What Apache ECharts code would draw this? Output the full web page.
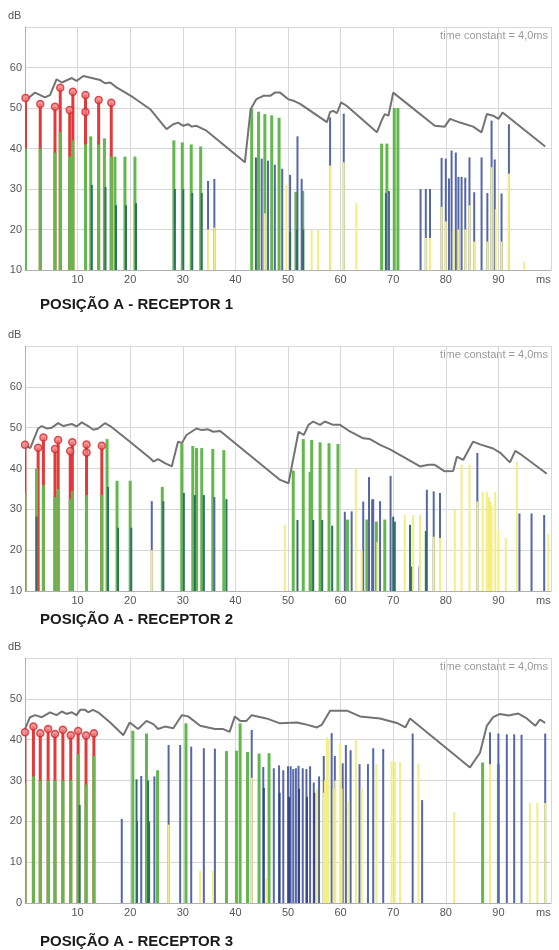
<!DOCTYPE html>
<html><head><meta charset="utf-8">
<script src="https://cdn.jsdelivr.net/npm/echarts@6/dist/echarts.min.js"></script>
<style>html,body{margin:0;padding:0;background:#fff}#c{width:559px;height:950px}</style>
</head><body><div id="c"></div>
<script>
// ---------- DATA ----------
const titles = ['POSIÇÃO A - RECEPTOR 1','POSIÇÃO A - RECEPTOR 2','POSIÇÃO A - RECEPTOR 3'];
const xTicks = [10,20,30,40,50,60,70,80,90];
const yRange12 = [10,70];
const yRange3 = [0,60];
const noteText = 'time constant = 4,0ms';

// Panel 1
const p1Red = [[0.1,52.5],[2.9,51],[5.7,50.3],[6.7,55],[8.5,49.5],[9.1,54],[11.5,53.2],[14,52],[16.4,51.3]];
const p1Dots = [[0.1,52.5],[2.9,51],[5.7,50.3],[6.7,55],[8.5,49.5],[9.1,54],[11.5,53.2],[11.5,49],[14,52],[16.4,51.3]];
const p1Green = [[0.1,40],[2.9,40],[5.7,39],[6.7,44],[8.5,38],[9.1,42],[11.5,41],[12.5,43],[14,41],[15.1,42.5],[16.4,38],[17.1,38],[19,38],[20.9,38],[28.3,42],[29.9,41.5],[31.6,41],[33.4,40.5],[43.1,49.8],[44.4,49.1],[45.6,48.5],[46.9,48.2],[48.3,47.6],[51.5,29.3],[52.8,29.5],[67.8,41.2],[68.8,41.2],[70.2,50],[70.9,50]];
const p1Teal = [[12.7,31],[15.3,30.5],[17.3,26],[19.2,26],[21.1,26.5],[28.5,30],[30.1,30],[31.8,29],[33.6,29],[43.9,37.8],[50.4,19.4],[51.7,20],[52.9,20],[68.6,29]];
const p1Blue = [[34.8,32],[36,32.5],[45,37.5],[46.2,37],[47.5,36],[48.9,35],[50.4,33.5],[51.8,43],[52.6,32.5],[58,47.7],[60.6,48.6],[69.2,29.5],[75.2,30],[76.2,30],[77,30],[79.2,37.7],[80,37.5],[80.6,32.6],[81.1,39.5],[81.9,39],[82.4,33],[83,33],[83.7,32.8],[84.5,37.8],[85.4,29.2],[86.8,37.8],[87.9,29],[88.7,46.9],[89.3,37.3],[90.6,28.9],[92,46]];
const p1Yellow = [[34.8,20],[36,20.5],[45.6,24],[49.7,31],[54.5,19.8],[55.7,19.8],[58,35.8],[60.6,36.6],[63,26.5],[76.2,17.9],[77,17.9],[79.2,25.6],[80,22],[81.5,20],[82.4,20],[83.7,20],[84.5,26],[85.4,17],[87.9,17],[88.7,35.4],[89.5,25],[90.6,17],[92,33.8],[94.9,12]];
const p1Curve = [[0,51.8],[1.9,53.8],[3.8,52.6],[4.75,53.2],[6,57.1],[7,56.3],[8.9,57.4],[9.8,56.7],[11.1,57.9],[12.7,57.4],[14.3,56.9],[15.2,56.1],[16.2,56.3],[17.4,55.1],[20.6,52.6],[23.8,49.7],[26.9,44.8],[28.2,46],[29.1,46.4],[30.1,45.6],[31,46],[31.7,45.4],[32.6,45.6],[34.5,44.4],[41.8,36.6],[42.1,36.2],[42.9,49.7],[44,52.2],[45.3,53],[46.6,53],[47.5,53.8],[48.5,53.8],[50,52.2],[51,51.8],[52.3,51],[57.4,46.5],[58,49],[58.6,49.3],[59.3,48.7],[60.1,51.4],[61.2,50.5],[66.9,44],[67.8,46.9],[68.4,48.5],[69.1,48.1],[70,53.8],[77.9,45.6],[79.8,45.4],[80.8,47.3],[82.7,46.4],[85.2,45.4],[86.8,44],[87.8,48.5],[89,48.1],[90,47.3],[90.8,48.9],[98.9,40.5]];

// Panel 2
const p2Red = [[0,45.8],[2.5,45.1],[3.5,47.6],[5.7,44.8],[6.3,47],[8.6,44.3],[9,46.4],[11.7,45.9],[14.6,45.6]];
const p2Dots = [[0,45.8],[2.5,45.1],[3.5,47.6],[5.7,44.8],[6.3,47],[8.6,44.3],[9,46.4],[11.7,45.9],[11.7,43.9],[14.6,45.6]];
const p2Green = [[0,33.9],[2.2,40],[3.5,36],[5.7,33],[6.3,35],[8.6,32.5],[9,34.5],[11.7,33.5],[14.6,33.5],[15.6,47.2],[17.5,37],[20,37],[26.1,35.5],[29.8,46],[31.9,45.5],[32.6,45],[33.6,45],[35.7,44.8],[37.8,44.5],[51,39.5],[52.9,47.2],[54.2,39.2],[54.5,47],[56.1,46.4],[57.8,46.2],[59.5,46],[61.3,27.5],[65,27.5],[66.8,27],[68.4,27.5]];
const p2Teal = [[2.2,28.2],[15.8,35.5],[17.7,25.5],[20.2,25.5],[26.3,32],[30.2,34],[32.3,33.5],[34,33.5],[38.3,32.5],[51.8,27.4],[54.8,27.4],[56.5,27.4],[58.4,26],[70,28.2],[70.3,27],[73.2,26.2],[76.2,24.7]];
const p2Blue = [[24.1,32],[36,33],[60.8,29.4],[62.1,29.5],[64.3,31.9],[65.4,37.9],[66,32.4],[66.2,32.5],[67.5,32],[69.5,38.2],[73.5,16],[75,16],[76.4,34.8],[77.7,34.4],[78.9,34],[86,43.8],[94,29],[96.3,29],[98.7,28.6]];
const p2Yellow = [[24.1,20],[49.4,26.2],[62.9,40],[64,20],[67,22],[72.2,28.6],[73.8,28.6],[75.1,28.6],[77.7,23.3],[78.9,23],[81.7,29.9],[83,40.9],[84.5,40.9],[86,31.9],[87,34.3],[87.8,34.3],[88.2,33],[88.4,32],[88.7,31],[89.4,34.3],[90,25],[91.4,23],[93.5,41.7],[99.5,24]];
const p2Curve = [[0,45.8],[1,45],[2.5,49.8],[3.2,50.4],[4.1,49.8],[5.1,50],[6.3,51.1],[7.3,50.4],[8.9,50.9],[9.8,50.3],[10.8,51.3],[12,50.4],[13,49.5],[13.9,49.8],[15.2,51.1],[16.2,50.4],[19.9,46.6],[23.8,42.5],[24.4,41.7],[25.3,42.3],[26.6,41.3],[27.9,40.5],[29.1,46.6],[29.8,46.2],[30.7,48.2],[32.6,49.8],[33.6,49.4],[34.8,49.6],[35.8,49],[37.1,49.2],[48.5,37.2],[50.1,36.4],[52,49],[53,48.2],[53.9,50.7],[54.8,51.5],[56.1,50.7],[57,51.5],[58.6,50.7],[59.9,50.7],[61.5,49.3],[64.3,47.4],[65.6,47.2],[67.5,45.8],[69.4,44.7],[75.1,40.5],[76.7,40.9],[77.9,40.9],[79.8,39.3],[81.4,39.4],[82.1,42.9],[83.3,42.1],[85.2,46.6],[86.5,45.9],[89,44.9],[90.3,43.9],[92.2,41.5],[93.2,44.3],[94.1,43.6],[99.2,38.7]];

// Panel 3
const p3Red = [[0,41.8],[1.6,43.2],[2.9,41.6],[4.4,42.6],[5.7,41.4],[7.2,42.4],[8.7,41.1],[10.1,42.1],[11.6,41],[13.1,41.6]];
const p3Dots = [[0,41.8],[1.6,43.2],[2.9,41.6],[4.4,42.6],[5.7,41.4],[7.2,42.4],[8.7,41.1],[10.1,42.1],[11.6,41],[13.1,41.6]];
const p3Green = [[0,29.5],[1.6,31],[2.9,30],[4.4,30],[5.7,30],[7.2,30],[8.7,30],[10.1,36.5],[11.6,29],[13.1,36],[20.5,42.2],[23.1,41.5],[25.2,32.5],[30.6,44],[38.3,37.2],[40.2,37.3],[40.9,44],[42.3,37],[44.5,36.6],[46.4,36.7],[87,34.4],[90,34]];
const p3Teal = [[10.4,24],[21.2,30.3],[23.4,30],[21.3,20],[23.6,20]];
const p3Blue = [[18.4,20.6],[22.1,31.1],[24.6,31],[27.3,38.7],[29.5,38.7],[31.6,38.3],[34,37.9],[36.1,37.8],[43.1,42.4],[45.3,33.3],[47.3,33],[48.3,33.7],[49.1,32.5],[50,33.5],[50.5,33.5],[51,32.8],[51.5,33],[52,33.6],[52.8,33],[53.5,32.8],[54.2,33.5],[54.9,29.5],[55.9,31],[56.8,36],[58.3,41.6],[58.9,36],[60.4,34.2],[61,38.7],[61.9,37.4],[63.6,34],[65.2,34],[66.2,37.9],[68.1,37.7],[73.7,41.5],[75.5,25.2],[88.4,41.8],[90,41.5],[91.6,41.3],[93,41.3],[94.4,41.2],[98.9,41.5]];
const p3Navy = [[45.4,28.2],[48.4,27],[50.2,26],[52.1,28],[53.6,26],[55,27]];
const p3Yellow = [[27.3,19.2],[33.3,7.9],[35.7,7.9],[43.1,30.7],[45.9,6],[55.5,28],[56.8,27],[57,30],[57.4,40.5],[57.7,40.1],[58.7,28],[59,30],[59.9,39],[60.2,28],[61.5,25],[62.9,40.1],[64,28],[66.8,34],[69.7,34.8],[70.3,34.5],[71.3,34.5],[74.8,34.2],[81.6,22.2],[88.4,34],[96,24.5],[97.4,24.5],[98.9,24.5]];
const p3Curve = [[0,42.6],[0.95,45.5],[1.9,46],[3.2,45.5],[4.75,46.7],[6,46],[7,46.9],[7.9,46.3],[8.9,46.7],[9.8,46],[10.5,47.3],[11.4,47.3],[12,46.7],[12.9,47.3],[13.9,46.7],[16.2,44.2],[18.7,41.1],[19.9,44.2],[21.5,42.6],[23.1,44.6],[24.4,43.8],[25.3,42.6],[26.6,43.2],[28.2,42.8],[29.8,46],[31,45.7],[33.3,43.4],[34.8,43],[36.1,42.6],[37.7,42.6],[38.9,41.9],[39.9,45.7],[40.9,44.6],[42.1,44.6],[43.1,46],[45.9,45.2],[48.5,44],[51.7,44.2],[53.2,43.8],[55.5,43],[56.4,43.6],[58,47.1],[61.2,47.1],[63.7,45.7],[67.5,45.2],[70.7,44.1],[72.3,43],[73.2,45.2],[84.6,33.2],[86.5,36.8],[87.8,43.4],[89,45.5],[90.3,46.3],[91.9,45.9],[93.8,46.4],[95.4,45.2],[97,43.4],[97.9,44.9],[98.9,44.1]];

// ---------- CHART ----------
const C = {red:'#e03a3a', green:'#62b84c', teal:'#336e66', blue:'#5667a8', navy:'#33448a', yellow:'#f2ee84', curve:'#737373', grid:'#d8d8d8'};
const FONT = 'Liberation Sans';
const grids = [
  {left:25, top:27, width:526, height:243},
  {left:25, top:346, width:526, height:245},
  {left:25, top:658, width:526, height:245}
];
const yRanges = [yRange12, yRange12, yRange3];

function spikes(i, data, color, w, z){
  return {type:'custom', xAxisIndex:i, yAxisIndex:i, data:data, z:z, silent:true, clip:true,
    renderItem:function(params, api){
      const p = api.coord([api.value(0), api.value(1)]);
      const bottom = params.coordSys.y + params.coordSys.height;
      return {type:'rect', shape:{x:p[0]-w/2, y:p[1], width:w, height:bottom-p[1]}, style:{fill:color}};
    }};
}
const panels = [
  {red:p1Red, dots:p1Dots, green:p1Green, teal:p1Teal, blue:p1Blue, navy:[], yellow:p1Yellow, curve:p1Curve},
  {red:p2Red, dots:p2Dots, green:p2Green, teal:p2Teal, blue:p2Blue, navy:[], yellow:p2Yellow, curve:p2Curve},
  {red:p3Red, dots:p3Dots, green:p3Green, teal:p3Teal, blue:p3Blue, navy:p3Navy, yellow:p3Yellow, curve:p3Curve}
];
const xAxis = [], yAxis = [], series = [], graphic = [];
panels.forEach(function(p, i){
  const g = grids[i];
  xAxis.push({type:'value', gridIndex:i, min:0, max:100, interval:10,
    axisLine:{show:true, lineStyle:{color:'#b0b0b0'}}, axisTick:{show:false},
    splitLine:{show:true, lineStyle:{color:C.grid, width:1}},
    axisLabel:{color:'#555', fontFamily:FONT, fontSize:11, margin:4,
      formatter:function(v){ return xTicks.indexOf(v) >= 0 ? String(v) : ''; }}});
  const yr = yRanges[i];
  yAxis.push({type:'value', gridIndex:i, min:yr[0], max:yr[1], interval:10,
    axisLine:{show:true, lineStyle:{color:'#b0b0b0'}}, axisTick:{show:false},
    splitLine:{show:true, lineStyle:{color:C.grid, width:1}},
    axisLabel:{color:'#555', fontFamily:FONT, fontSize:11, margin:3,
      formatter:function(v){ return v === yr[1] ? '' : String(v); }}});
  series.push(spikes(i, p.red, C.red, 3, 2));
  series.push(spikes(i, p.green, C.green, 3, 3));
  series.push(spikes(i, p.blue, C.blue, 2, 4));
  series.push(spikes(i, p.teal, C.teal, 2, 5));
  series.push(spikes(i, p.navy, C.navy, 2, 5));
  series.push(spikes(i, p.yellow, C.yellow, 2, 6));
  series.push({type:'line', xAxisIndex:i, yAxisIndex:i, data:p.curve, showSymbol:false, silent:true, z:7,
    lineStyle:{color:C.curve, width:2}});
  series.push({type:'scatter', xAxisIndex:i, yAxisIndex:i, data:p.dots, symbol:'circle', symbolSize:7, silent:true, z:8,
    itemStyle:{color:'#f08080', borderColor:'#d8262b', borderWidth:1.5}});
  graphic.push({type:'text', left:8, top:g.top-17, style:{text:'dB', fill:'#555', font:'11px "'+FONT+'"'}});
  graphic.push({type:'text', left:536, top:g.top+g.height+4, style:{text:'ms', fill:'#555', font:'11px "'+FONT+'"'}});
  graphic.push({type:'text', right:11, top:g.top+3, style:{text:noteText, fill:'#9a9a9a', font:'11px "'+FONT+'"'}});
});
graphic.push({type:'text', left:40, top:297, style:{text:titles[0], fill:'#1a1a1a', font:'bold 15px "'+FONT+'"'}});
graphic.push({type:'text', left:40, top:612, style:{text:titles[1], fill:'#1a1a1a', font:'bold 15px "'+FONT+'"'}});
graphic.push({type:'text', left:40, top:934, style:{text:titles[2], fill:'#1a1a1a', font:'bold 15px "'+FONT+'"'}});

const chart = echarts.init(document.getElementById('c'), null, {renderer:'canvas'});
chart.setOption({animation:false, backgroundColor:'#fff', grid:grids, xAxis:xAxis, yAxis:yAxis, series:series, graphic:graphic});
</script></body></html>
